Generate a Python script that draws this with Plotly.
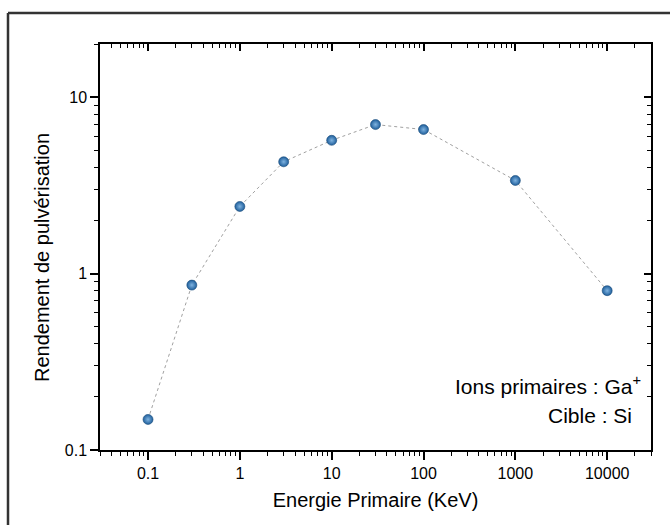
import plotly.graph_objects as go
import math

# Data
energy_kev = [0.1, 0.3, 1, 3, 10, 30, 100, 1000, 10000]
sputter_yield = [0.149, 0.86, 2.40, 4.30, 5.69, 6.99, 6.55, 3.37, 0.80]

x_tickvals = [0.1, 1, 10, 100, 1000, 10000]
x_ticktext = ["0.1", "1", "10", "100", "1000", "10000"]
y_tickvals = [0.1, 1, 10]
y_ticktext = ["0.1", "1", "10"]

x_title = "Energie Primaire (KeV)"
y_title = "Rendement de pulvérisation"
note1 = "Ions primaires : Ga<sup>+</sup>"
note2 = "Cible : Si"

W, H = 670, 525
ML, MR, MT, MB = 100, 19, 44, 75
PW, PH = W - ML - MR, H - MT - MB

FONT = "Liberation Sans, Arial, sans-serif"
xr = [math.log10(0.03), math.log10(30000)]
yr = [-1, math.log10(20)]

def px2paper_x(px):
    return (px - ML) / PW

def px2paper_y(py):
    return 1 - (py - MT) / PH

fig = go.Figure()
fig.add_trace(go.Scatter(
    x=energy_kev, y=sputter_yield, mode="lines+markers",
    line=dict(color="#a0a0a0", width=1, dash="dot"),
    marker=dict(size=10, color="#1f5f9c",
                line=dict(width=0.6, color="#174a78"),
                gradient=dict(type="radial", color="#7fb3e0")),
    showlegend=False, hoverinfo="x+y",
))
# invisible trace to anchor mirror axes
fig.add_trace(go.Scatter(x=[1], y=[1], xaxis="x2", yaxis="y2", mode="markers",
                         marker=dict(opacity=0), showlegend=False, hoverinfo="skip"))

axcommon = dict(type="log", showgrid=False, zeroline=False, showline=True,
                linecolor="black", linewidth=1.5, tickcolor="black", tickwidth=1.5)

fig.update_layout(
    width=W, height=H,
    margin=dict(l=ML, r=MR, t=MT, b=MB),
    paper_bgcolor="white", plot_bgcolor="white",
    font=dict(family=FONT, color="black", size=16),
    xaxis=dict(**axcommon, range=xr, tickmode="array", tickvals=x_tickvals,
               ticktext=x_ticktext, ticks="outside", ticklen=8,
               minor=dict(ticks="outside", ticklen=4, dtick="D1", tickcolor="black", tickwidth=1.2),
               tickfont=dict(size=16),
               title=dict(text=x_title, font=dict(size=20), standoff=12)),
    yaxis=dict(**axcommon, range=yr, tickmode="array", tickvals=y_tickvals,
               ticktext=y_ticktext, ticks="outside", ticklen=8,
               minor=dict(ticks="outside", ticklen=4, dtick="D1", tickcolor="black", tickwidth=1.2),
               tickfont=dict(size=16)),
    xaxis2=dict(**axcommon, range=xr, overlaying="x", side="top", anchor="y",
                tickmode="array", tickvals=x_tickvals, ticks="inside", ticklen=7,
                showticklabels=False,
                minor=dict(ticks="inside", ticklen=4, dtick="D1", tickcolor="black", tickwidth=1.2)),
    yaxis2=dict(**axcommon, range=yr, overlaying="y", side="right", anchor="x",
                tickmode="array", tickvals=y_tickvals, ticks="inside", ticklen=7,
                showticklabels=False,
                minor=dict(ticks="inside", ticklen=4, dtick="D1", tickcolor="black", tickwidth=1.2)),
    annotations=[
        dict(text=y_title, x=px2paper_x(42), y=px2paper_y(258), xref="paper", yref="paper",
             xanchor="center", yanchor="middle", textangle=-90, showarrow=False,
             font=dict(size=20)),
        dict(text=note1, x=px2paper_x(643), y=px2paper_y(385), xref="paper", yref="paper",
             xanchor="right", yanchor="middle", showarrow=False, font=dict(size=21)),
        dict(text=note2, x=px2paper_x(634), y=px2paper_y(415), xref="paper", yref="paper",
             xanchor="right", yanchor="middle", showarrow=False, font=dict(size=21)),
    ],
    shapes=[
        dict(type="line", xref="paper", yref="paper",
             x0=px2paper_x(8), x1=px2paper_x(8), y0=px2paper_y(13), y1=px2paper_y(526),
             line=dict(color="#333333", width=2.5)),
        dict(type="line", xref="paper", yref="paper",
             x0=px2paper_x(8), x1=px2paper_x(671), y0=px2paper_y(13), y1=px2paper_y(13),
             line=dict(color="#333333", width=2.5)),
    ],
)

fig.write_html("out.html")
